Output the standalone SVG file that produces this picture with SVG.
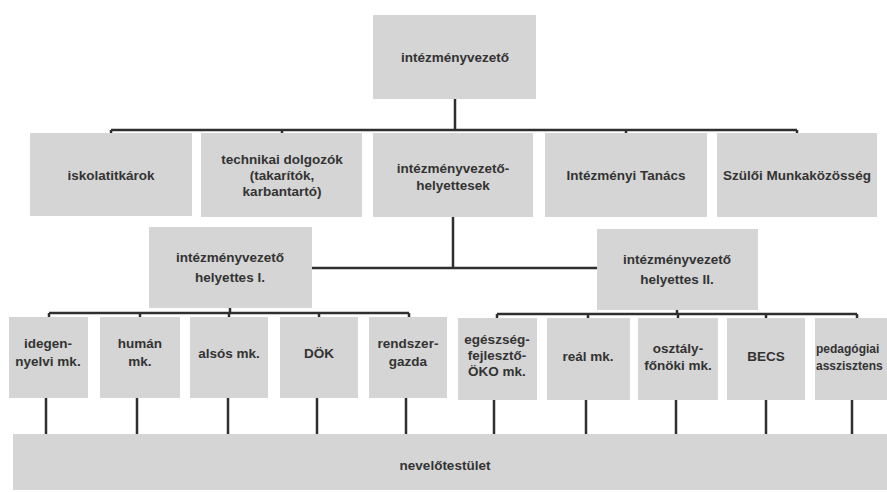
<svg xmlns="http://www.w3.org/2000/svg" width="887" height="492" viewBox="0 0 887 492">
<style>
.box{fill:#d5d5d5;}
.t{font-family:"Liberation Sans",Arial,sans-serif;font-size:13.5px;font-weight:bold;fill:#333333;text-anchor:middle;}
.s{font-size:12px;text-anchor:start;}
.c{stroke:#2f2f2f;stroke-width:2.5;fill:none;}
</style>
<rect width="887" height="492" fill="#ffffff"/>
<g id="connectors">
<path class="c" d="M455 99V130M111 130H797M111 130V133M282 130V133M626 130V133M797 130V133"/>
<path class="c" d="M453 216V268M312 268H597"/>
<path class="c" d="M230 308V313M49 313H409M49 313V317M140 313V317M229 313V317M319 313V317M409 313V317"/>
<path class="c" d="M677 310V314M497 314H857M497 314V318M588 314V318M678 314V318M766 314V318M857 314V318"/>
<path class="c" d="M46 398V434M137 398V434M228 398V434M317 398V434M406 398V434M494 398V434M586 398V434M676 398V434M766 398V434M852 398V434"/>
</g>
<g id="n-intezmenyvezeto"><rect class="box" x="373" y="15" width="163" height="84"/><text class="t" x="455" y="62">intézményvezető</text></g>
<g id="n-iskolatitkarok"><rect class="box" x="30" y="133" width="162" height="83"/><text class="t" x="111" y="180">iskolatitkárok</text></g>
<g id="n-technikai"><rect class="box" x="201" y="133" width="161" height="84"/><text class="t" x="282" y="164">technikai dolgozók</text><text class="t" x="282" y="180">(takarítók,</text><text class="t" x="282" y="196">karbantartó)</text></g>
<g id="n-helyettesek"><rect class="box" x="373" y="133" width="160" height="84"/><text class="t" x="453" y="173">intézményvezető-</text><text class="t" x="453" y="190">helyettesek</text></g>
<g id="n-tanacs"><rect class="box" x="545" y="133" width="162" height="84"/><text class="t" x="626" y="180">Intézményi Tanács</text></g>
<g id="n-szuloi"><rect class="box" x="717" y="133" width="160" height="84"/><text class="t" x="797" y="180">Szülői Munkaközösség</text></g>
<g id="n-helyettes1"><rect class="box" x="149" y="227" width="163" height="81"/><text class="t" x="230" y="262">intézményvezető</text><text class="t" x="230" y="282">helyettes I.</text></g>
<g id="n-helyettes2"><rect class="box" x="597" y="229" width="161" height="81"/><text class="t" x="677" y="264">intézményvezető</text><text class="t" x="677" y="284">helyettes II.</text></g>
<g id="n-idegen"><rect class="box" x="9" y="317" width="79" height="81"/><text class="t" x="48" y="348">idegen-</text><text class="t" x="48" y="366">nyelvi mk.</text></g>
<g id="n-human"><rect class="box" x="100" y="317" width="80" height="81"/><text class="t" x="140" y="348">humán</text><text class="t" x="140" y="366">mk.</text></g>
<g id="n-alsos"><rect class="box" x="190" y="317" width="78" height="81"/><text class="t" x="229" y="358">alsós mk.</text></g>
<g id="n-dok"><rect class="box" x="280" y="317" width="78" height="81"/><text class="t" x="319" y="358">DÖK</text></g>
<g id="n-rendszergazda"><rect class="box" x="369" y="317" width="78" height="81"/><text class="t" x="408" y="348">rendszer-</text><text class="t" x="408" y="366">gazda</text></g>
<g id="n-egeszseg"><rect class="box" x="458" y="318" width="79" height="82"/><text class="t" x="497" y="344">egészség-</text><text class="t" x="497" y="360">fejlesztő-</text><text class="t" x="497" y="376">ÖKO mk.</text></g>
<g id="n-real"><rect class="box" x="547" y="318" width="83" height="82"/><text class="t" x="588" y="361">reál mk.</text></g>
<g id="n-osztalyfonoki"><rect class="box" x="638" y="318" width="80" height="82"/><text class="t" x="678" y="353">osztály-</text><text class="t" x="678" y="370">főnöki mk.</text></g>
<g id="n-becs"><rect class="box" x="727" y="318" width="78" height="82"/><text class="t" x="766" y="361">BECS</text></g>
<g id="n-pedagogiai"><rect class="box" x="815" y="318" width="80" height="82"/><text class="t s" x="816" y="353">pedagógiai</text><text class="t s" x="816" y="370">asszisztens</text></g>
<g id="n-nevelotestulet"><rect class="box" x="13" y="434" width="874" height="56"/><text class="t" x="445" y="470">nevelőtestület</text></g>
</svg>
